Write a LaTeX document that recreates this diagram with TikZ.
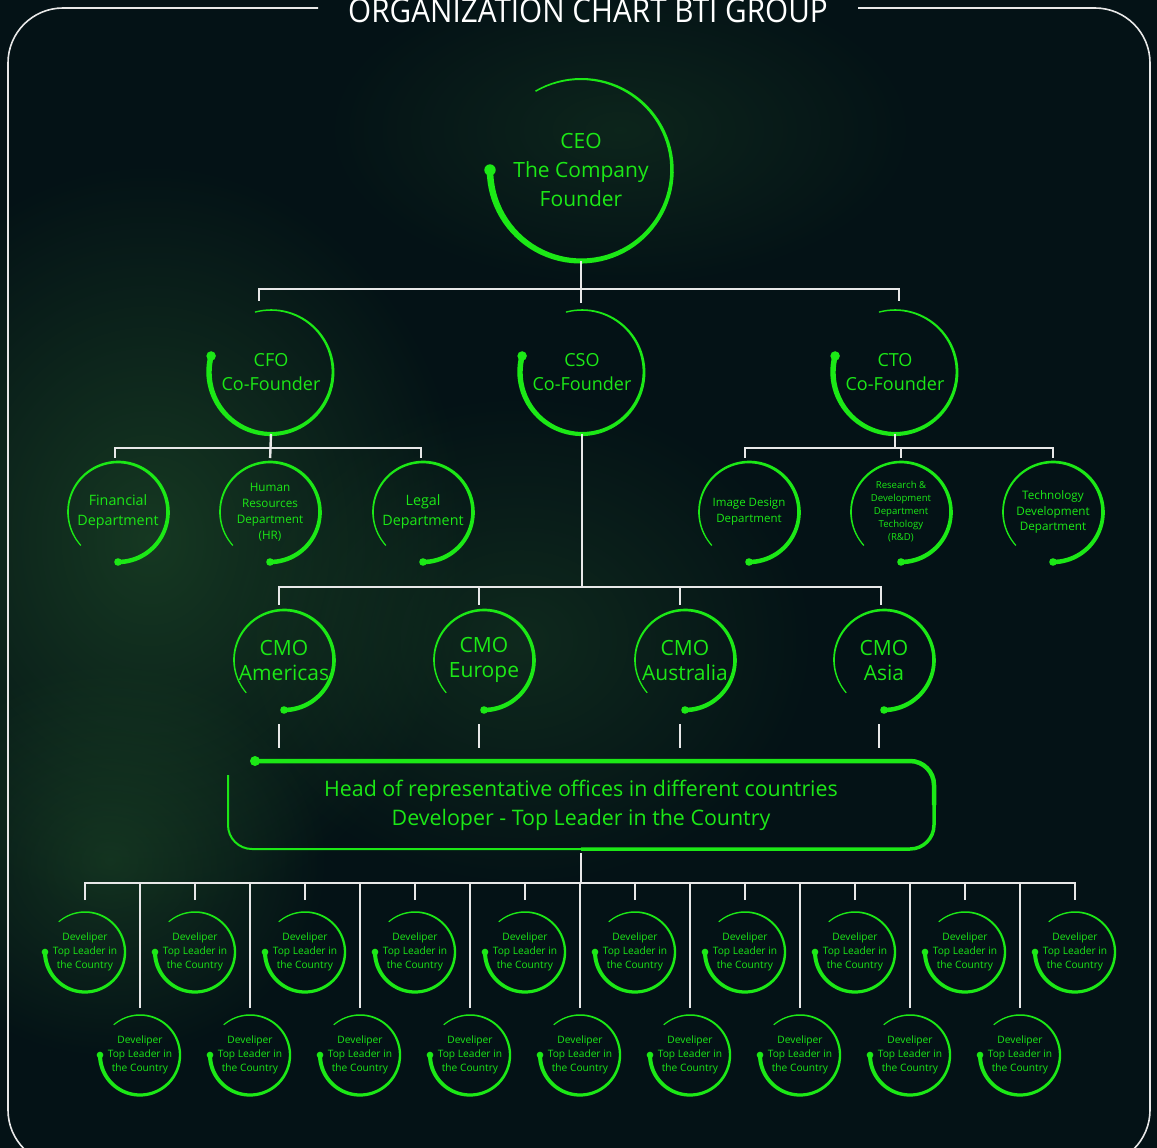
\documentclass[tikz,border=0pt]{standalone}
\usepackage{fontspec}
\setmainfont{Open Sans}
\newfontfamily\titlefont[FakeStretch=0.9]{Open Sans}
\usetikzlibrary{positioning,fadings}

\definecolor{bgdark}{RGB}{4,18,22}
\definecolor{neon}{RGB}{28,232,22}
\definecolor{haze}{RGB}{40,95,46}
\definecolor{wirecol}{RGB}{232,232,232}

\tikzfading[name=glow, inner color=transparent!0, outer color=transparent!100]

\tikzset{
  wire/.style={draw=wirecol, line width=2.4pt},
  ring/.style={circle, inner sep=0pt, outer sep=0pt, minimum size=#1, text=neon, align=center},
}

% tapered open ring round a node: node, radius, start angle, end angle, start width
\newcommand\ringarc[5]{%
  \fill[neon, shift={(#1.center)}]
    plot[domain=#3:#4, samples=80] (\x:{#2+0.3+#5*(1-0.85*(\x-#3)/(#4-#3))/2})
    -- plot[domain=#4:#3, samples=80] (\x:{#2-0.3-#5*(1-0.85*(\x-#3)/(#4-#3))/2}) -- cycle;
  \fill[neon, shift={(#1.center)}] (#3:#2) circle ({0.95*#5});
}

\begin{document}
\begin{tikzpicture}[x=1pt, y=1pt]
\useasboundingbox (0,0) rectangle (1157,-1148);
\fill[bgdark] (0,0) rectangle (1157,-1148);
\fill[haze, path fading=glow, opacity=0.5] (150,-540) ellipse (320 and 380);
\fill[haze, path fading=glow, opacity=0.3] (520,-640) ellipse (300 and 250);
\fill[haze, path fading=glow, opacity=0.4] (110,-860) ellipse (220 and 200);
\fill[haze, path fading=glow, opacity=0.25] (620,-130) ellipse (300 and 160);

% frame and title
\draw[wirecol, line width=1.6pt, rounded corners=55pt] (318,-8) -| (8,-1165) -| (1150,-8) -- (858,-8);
\node (title) at (588,-23) [anchor=base, text=white, font=\titlefont\fontsize{33}{33}\selectfont] {ORGANIZATION CHART BTI GROUP};

% top levels
\node (ceo) at (581,-170) [ring=182pt, font=\fontsize{21}{29}\selectfont] {CEO\\The Company\\Founder};
\node (cfo) at (271,-372) [ring=124pt, font=\fontsize{18}{24}\selectfont] {CFO\\Co-Founder};
\node (cso) at (582,-372) [ring=124pt, font=\fontsize{18}{24}\selectfont] {CSO\\Co-Founder};
\node (cto) at (895,-372) [ring=124pt, font=\fontsize{18}{24}\selectfont] {CTO\\Co-Founder};

% departments
\node (cfo_fin) at (118,-512) [ring=100pt, font=\fontsize{14.3}{20}\selectfont] {Financial\\Department};
\node (cfo_hr) at (270,-512) [ring=100pt, font=\fontsize{11.7}{16}\selectfont] {Human\\Resources\\Department\\(HR)};
\node (cfo_legal) at (423,-512) [ring=100pt, font=\fontsize{14.3}{20}\selectfont] {Legal\\Department};
\node (cto_image) at (749,-512) [ring=100pt, font=\fontsize{11.5}{16}\selectfont] {Image Design\\Department};
\node (cto_rnd) at (901,-512) [ring=100pt, font=\fontsize{9.6}{13}\selectfont] {Research \&\\Development\\Department\\Techology\\(R\&D)};
\node (cto_tech) at (1053,-512) [ring=100pt, font=\fontsize{11.7}{15.5}\selectfont] {Technology\\Development\\Department};

% regional CMOs
\node (cmo_americas) at (284,-660) [ring=100pt, font=\fontsize{21}{25}\selectfont] {CMO\\Americas};
\node (cmo_europe) at (484,-660) [ring=100pt, font=\fontsize{21}{25}\selectfont] {CMO\\Europe};
\node (cmo_australia) at (685,-660) [ring=100pt, font=\fontsize{21}{25}\selectfont] {CMO\\Australia};
\node (cmo_asia) at (884,-660) [ring=100pt, font=\fontsize{21}{25}\selectfont] {CMO\\Asia};

\node (head) at (581,-805) [minimum width=706pt, minimum height=88pt, inner sep=0pt, outer sep=0pt, text=neon, align=center, font=\fontsize{21.4}{29}\selectfont] {Head of representative offices in different countries\\Developer - Top Leader in the Country};

% country developers
\foreach \i in {1,...,10}
  \node (top_dev\i) at ({85+110*(\i-1)},-952) [ring=80pt, font=\fontsize{10.2}{14}\selectfont] {Develiper\\Top Leader in\\the Country};
\foreach \i in {1,...,9}
  \node (bot_dev\i) at ({140+110*(\i-1)},-1055) [ring=80pt, font=\fontsize{10.2}{14}\selectfont] {Develiper\\Top Leader in\\the Country};

% rings
\ringarc{ceo}{91}{180}{480}{6}
\foreach \n in {cfo,cso,cto} {\ringarc{\n}{62}{165}{465}{5}}
\foreach \n in {cfo_fin,cfo_hr,cfo_legal,cto_image,cto_rnd,cto_tech} {\ringarc{\n}{50}{270}{582}{4}}
\foreach \n in {cmo_americas,cmo_europe,cmo_australia,cmo_asia} {\ringarc{\n}{50}{270}{581}{4}}
\foreach \i in {1,...,10} {\ringarc{top_dev\i}{40}{180}{491}{3.5}}
\foreach \i in {1,...,9} {\ringarc{bot_dev\i}{40}{180}{491}{3.5}}

% head box outline
\fill[neon] ([xshift=27pt]head.north west) circle (5);
\draw[neon, line width=4.5pt, rounded corners=24pt] ([xshift=27pt]head.north west) -- (head.north east) -- (head.east);
\draw[neon, line width=3.5pt, rounded corners=24pt] (head.east) -- (head.south east) -- (head.south);
\draw[neon, line width=2pt, rounded corners=24pt] (head.south) -- (head.south west) -- ([yshift=-14pt]head.north west);

% connectors
\path (ceo.south) ++(0,-28) coordinate (ceo_bus);
\draw[wire, shorten >=7pt] (ceo.south) -- (ceo.south |- cso.north);
\draw[wire, shorten <=9pt, shorten >=9pt] ([xshift=-12pt]cfo.north) |- (ceo_bus) -| ([xshift=4pt]cto.north);

\path (cfo.south) ++(0,-14) coordinate (cfo_bus);
\draw[wire, shorten >=4pt] (cfo.south) -- (cfo_hr.north);
\draw[wire, shorten <=4pt, shorten >=4pt] ([xshift=-3pt]cfo_fin.north) |- (cfo_bus) -| ([xshift=-2pt]cfo_legal.north);

\path (cto.south) ++(0,-14) coordinate (cto_bus);
\draw[wire, shorten >=4pt] (cto_bus -| cto_rnd.north) -- (cto_rnd.north);
\draw[wire] (cto.south) -- (cto_bus);
\draw[wire, shorten <=4pt, shorten >=4pt] ([xshift=-4pt]cto_image.north) |- (cto_bus) -| (cto_tech.north);

\path (cso.south) ++(0,-153) coordinate (cso_bus);
\draw[wire] (cso.south) -- (cso_bus);
\draw[wire, shorten <=5pt, shorten >=5pt] ([xshift=-5pt]cmo_americas.north) |- (cso_bus) -| ([xshift=-3pt]cmo_asia.north);
\foreach \n in {cmo_europe,cmo_australia}
  \draw[wire, shorten <=5pt] ([xshift=-5pt]\n.north) -- ([xshift=-5pt]\n.north |- cso_bus);
\foreach \n in {cmo_americas,cmo_europe,cmo_australia,cmo_asia}
  \draw[wire, shorten <=14pt, shorten >=13pt] ([xshift=-5pt]\n.south) -- ([xshift=-5pt]\n.south |- head.north);

\path (head.south) ++(0,-34) coordinate (dev_bus);
\draw[wire, shorten <=4pt] (head.south) -- (dev_bus);
\draw[wire, shorten <=12pt, shorten >=12pt] (top_dev1.north) |- (dev_bus) -| (top_dev10.north);
\foreach \i in {2,...,9}
  \draw[wire, shorten <=12pt] (top_dev\i.north) -- (top_dev\i.north |- dev_bus);
\foreach \i in {1,...,9}
  \draw[wire, shorten <=7pt] (bot_dev\i.north) -- (bot_dev\i.north |- dev_bus);
\end{tikzpicture}
\end{document}
